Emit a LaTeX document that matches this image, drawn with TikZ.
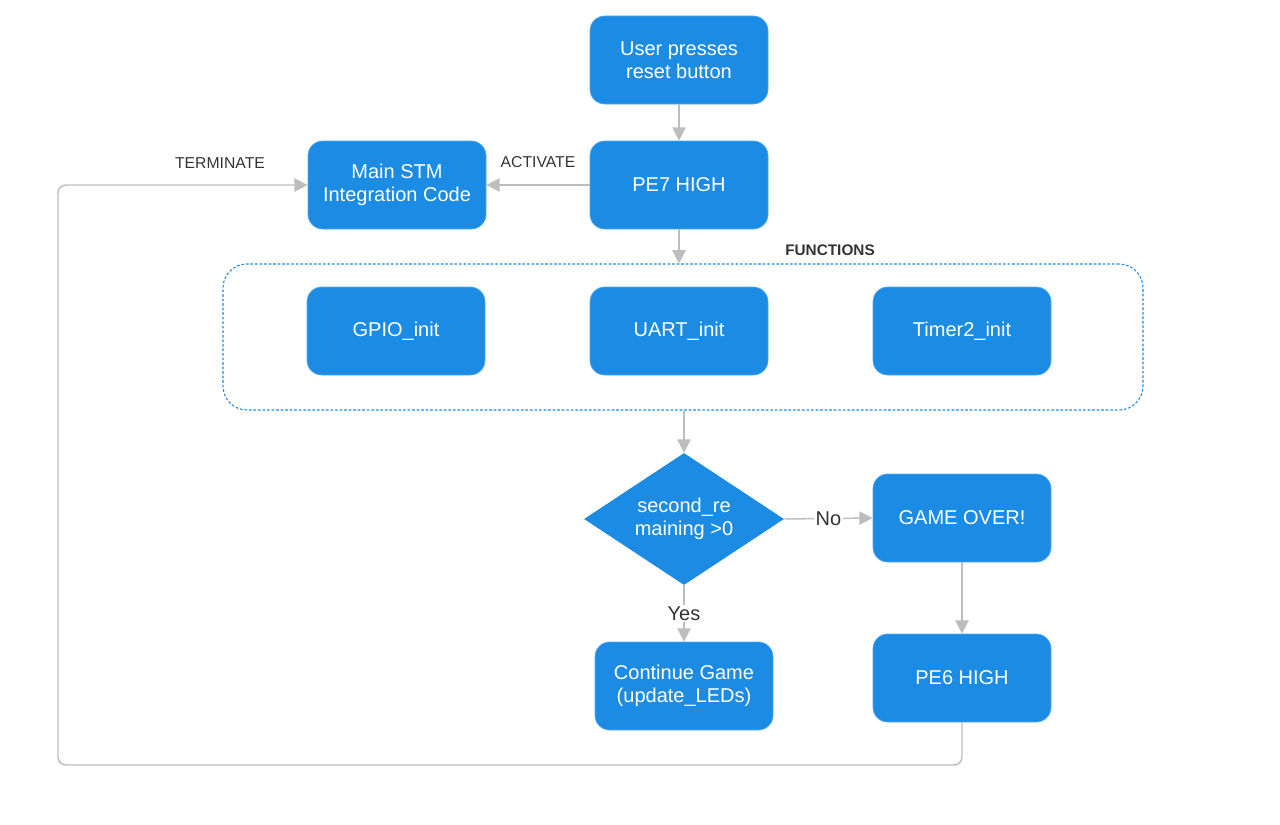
\documentclass[tikz,border=0pt]{standalone}
\usepackage{fontspec}
\setmainfont{Liberation Sans}
\usetikzlibrary{shapes.geometric,arrows.meta}
\definecolor{boxblue}{HTML}{1B8BE3}
\definecolor{boxedge}{HTML}{55AAEC}
\definecolor{wire}{HTML}{BDBDBD}
\definecolor{ink}{HTML}{333333}
\tikzset{
  procbox/.style={draw=boxedge, line width=0.5pt, fill=boxblue, rounded corners=11pt,
    minimum width=133.5pt, minimum height=66pt, inner sep=2pt, align=center,
    text=white, font=\fontsize{15}{17.25}\selectfont},
  decbox/.style={diamond, fill=boxblue, minimum width=150pt, minimum height=99pt,
    shape aspect=1.5, inner sep=0pt, align=center, text=white,
    font=\fontsize{15}{17.25}\selectfont},
  groupbox/.style={draw=boxblue, dash pattern=on 2pt off 1.4pt, line width=0.8pt,
    rounded corners=18pt, minimum width=690pt, minimum height=109.5pt},
  flow/.style={draw=wire, line width=1.1pt, -{Triangle[width=10pt,length=10pt]}},
  wirelabel/.style={text=ink, font=\fontsize{11.8}{13}\selectfont},
  branchlabel/.style={text=ink, fill=white, inner sep=1pt, font=\fontsize{15}{17}\selectfont}
}
\begin{document}
\begin{tikzpicture}[x=0.75pt,y=-0.75pt]
\useasboundingbox (0,0) rectangle (1280,824);

% function group
\node[groupbox] (funcs) at (683,337) {};
\node[text=ink, font=\fontsize{11.5}{13}\selectfont\bfseries] (funcslabel) at (830,250) {FUNCTIONS};

% process steps
\node[procbox] (user) at (679,60) {User presses\\reset button};
\node[procbox] (pe7) at (679,185) {PE7 HIGH};
\node[procbox] (main) at (397,185) {Main STM\\Integration Code};
\node[procbox] (gpio) at (396,331) {GPIO\_init};
\node[procbox] (uart) at (679,331) {UART\_init};
\node[procbox] (timer) at (962,331) {Timer2\_init};
\node[decbox] (dec) at (684,519) {second\_re\\maining >0};
\node[procbox] (over) at (962,518) {GAME OVER!};
\node[procbox] (pe6) at (962,678) {PE6 HIGH};
\node[procbox] (cont) at (684,686) {Continue Game\\(update\_LEDs)};

% connectors
\draw[flow] (user) -- (pe7);
\draw[flow] (pe7.west) -- node[wirelabel, above=9pt] (act) {ACTIVATE} (main.east);
\draw[flow] (pe7.south) -- (pe7.south |- funcs.north);
\draw[flow] (dec.north |- funcs.south) -- (dec.north);
\draw[flow] (dec.east) -- node[branchlabel] (no) {No} (over.west);
\draw[flow] (dec.south) -- node[branchlabel] (yes) {Yes} (cont.north);
\draw[flow] (over) -- (pe6);

% return path back to the main code
\coordinate (loopbl) at (58,765);
\draw[flow, rounded corners=6pt] (pe6.south) |- (loopbl) |- (main.west);
\node[wirelabel] (term) at (220,163) {TERMINATE};
\end{tikzpicture}
\end{document}
